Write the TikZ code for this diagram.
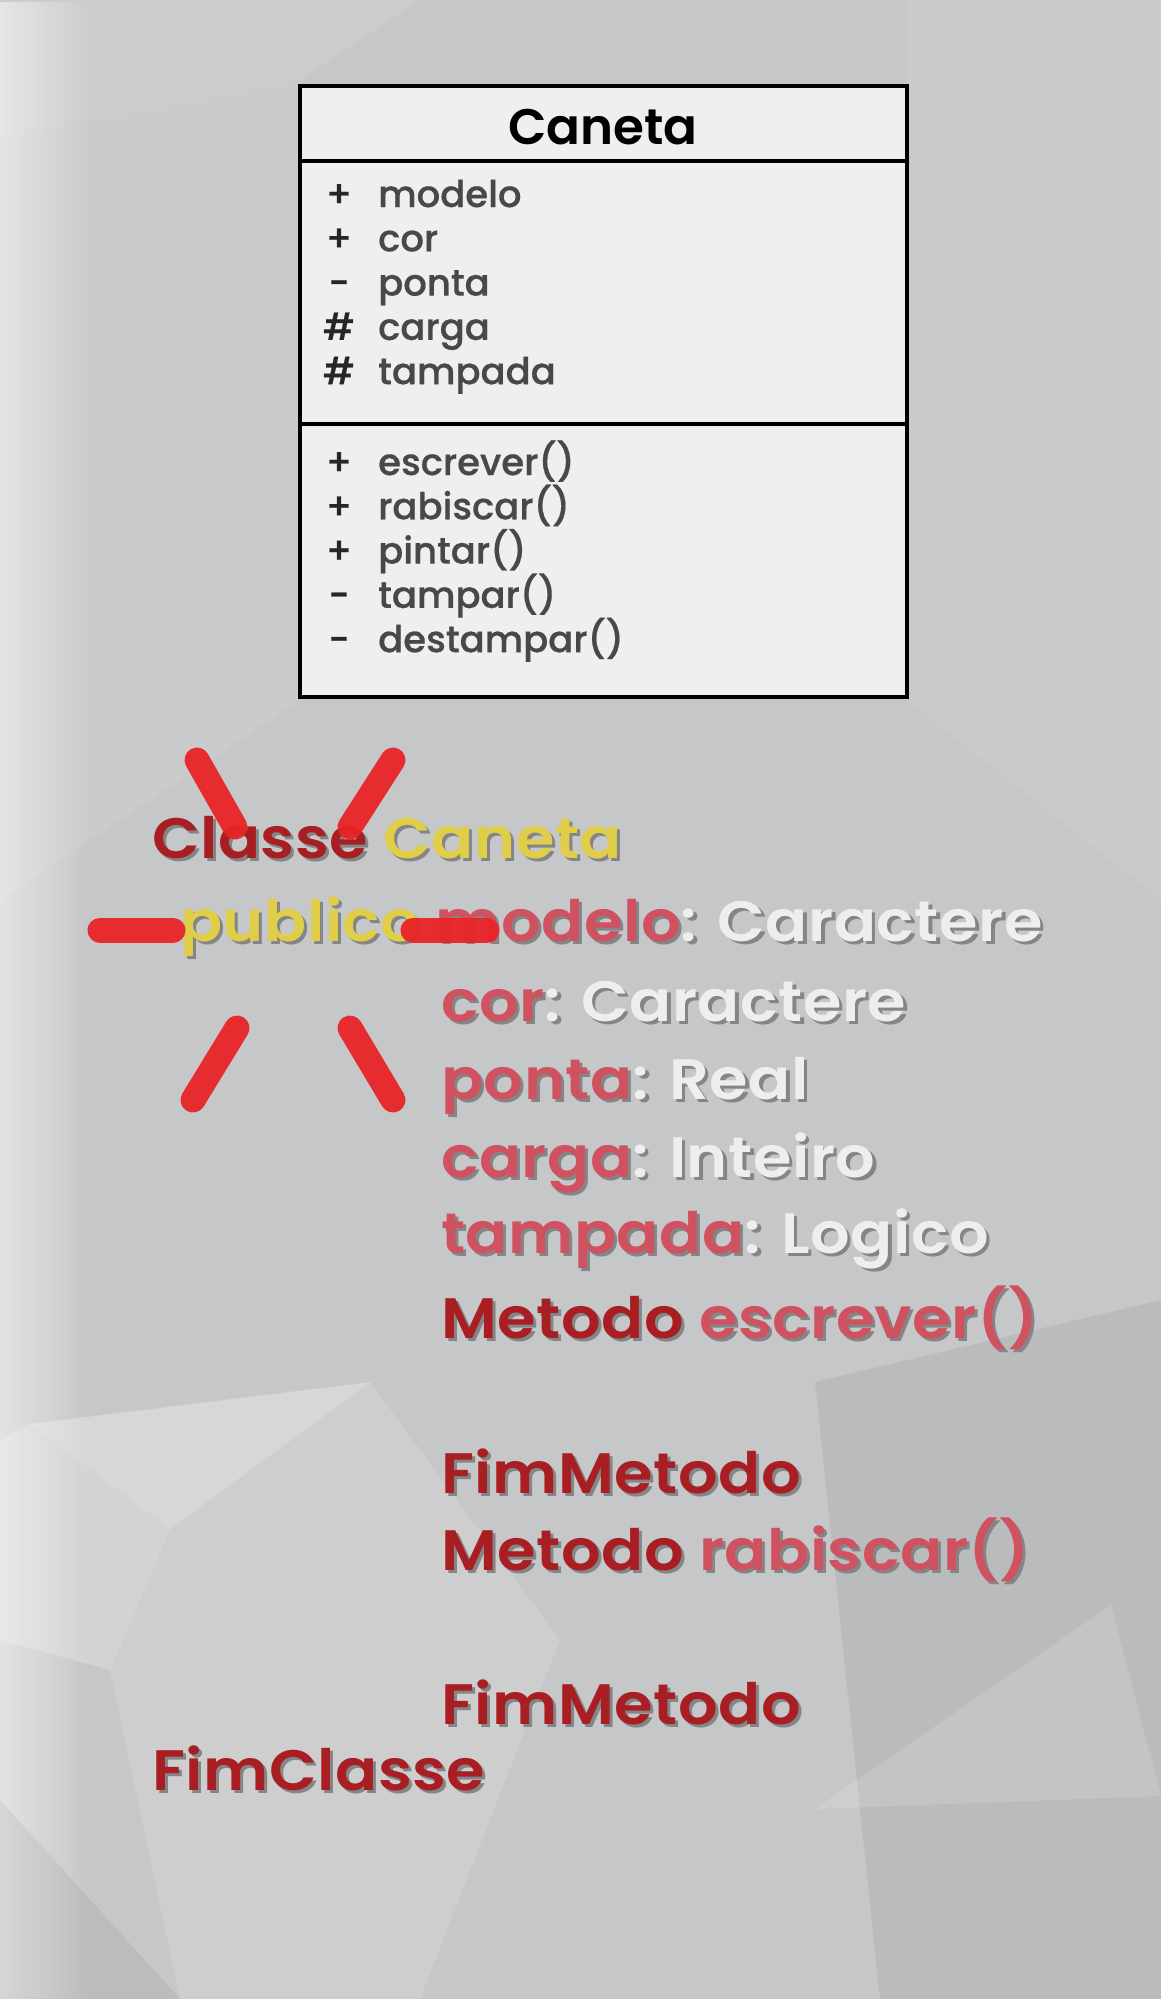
\documentclass[tikz,border=0pt]{standalone}
\usepackage{fontspec}
\setmainfont{Poppins}
\IfFontExistsTF{Poppins Medium}
  {\newfontfamily\pmed{Poppins Medium}[FakeBold=0.5]}
  {\newfontfamily\pmed{Poppins}[FakeBold=1.6]}
\IfFontExistsTF{Poppins SemiBold}
  {\newfontfamily\ptitle{Poppins SemiBold}
   \newfontfamily\psemi{Poppins SemiBold}[FakeStretch=1.09,LetterSpace=1]}
  {\newfontfamily\ptitle{Poppins}[FakeBold=2.5]
   \newfontfamily\psemi{Poppins}[FakeBold=2.5,FakeStretch=1.09,LetterSpace=1]}
\usetikzlibrary{positioning,fadings}
\definecolor{bgbase}{RGB}{198,199,200}
\definecolor{boxfill}{RGB}{243,243,243}
\definecolor{umltext}{RGB}{72,72,72}
\definecolor{kwred}{RGB}{168,30,34}
\definecolor{idyel}{RGB}{224,206,72}
\definecolor{nmpink}{RGB}{208,82,96}
\definecolor{tywhite}{RGB}{238,238,238}
\definecolor{shadowgray}{RGB}{132,133,134}
\definecolor{markred}{RGB}{232,36,38}
% colour switches used inside the code lines
\newcommand{\kwc}{\color{kwred}}
\newcommand{\idc}{\color{idyel}}
\newcommand{\nmc}{\color{nmpink}}
\newcommand{\tyc}{\color{tywhite}}
% text with a grey drop shadow behind it
\newcommand{\shadowed}[1]{\rlap{\hspace{3pt}\raisebox{-3pt}{\color{shadowgray}%
  \def\kwc{}\def\idc{}\def\nmc{}\def\tyc{}#1}}#1}
\newcommand{\codefont}{\psemi\fontsize{57}{60}\selectfont}
\tikzset{
  facet/.style={fill=white, draw=none},
  darkfacet/.style={fill=black, draw=none},
  umlbox/.style={draw=black, line width=4pt, fill=boxfill, fill opacity=0.93},
  umlline/.style={draw=black, line width=4pt},
  vis/.style={anchor=base, inner sep=0pt, text=black!85, font=\pmed\fontsize{37}{40}\selectfont},
  member/.style={anchor=base west, inner sep=0pt, text=umltext, font=\pmed\fontsize{37}{40}\selectfont},
  code/.style={anchor=base west, inner sep=0pt, font=\codefont},
  strike/.style={draw=markred, line width=25pt, line cap=round, opacity=0.95}
}
\begin{document}
\begin{tikzpicture}[x=1pt,y=-1pt]
\useasboundingbox (0,0) rectangle (1161,1999);
% background
\fill[bgbase] (0,0) rectangle (1161,1999);
\fill[facet, opacity=0.10] (0,0) -- (420,0) -- (300,80) -- (0,140) -- cycle;
\fill[facet, opacity=0.08] (0,140) -- (300,80) -- (300,700) -- (0,900) -- cycle;
\fill[facet, opacity=0.5, path fading=east] (0,0) rectangle (90,1999);
\fill[facet, opacity=0.08] (907,0) -- (1161,0) -- (1161,260) -- (907,150) -- cycle;
\fill[facet, opacity=0.06] (907,150) -- (1161,260) -- (1161,900) -- (907,700) -- cycle;
\fill[facet, opacity=0.30] (30,1424) -- (370,1382) -- (170,1529) -- cycle;
\fill[facet, opacity=0.22] (0,1440) -- (30,1424) -- (170,1529) -- (110,1670) -- (0,1640) -- cycle;
\fill[facet, opacity=0.14] (110,1670) -- (170,1529) -- (370,1382) -- (560,1640) -- (420,1999) -- (180,1999) -- cycle;
\fill[darkfacet, opacity=0.06] (815,1382) -- (1161,1300) -- (1161,1999) -- (880,1999) -- cycle;
\fill[facet, opacity=0.14] (1111,1605) -- (815,1809) -- (1161,1796) -- cycle;
\fill[darkfacet, opacity=0.05] (0,1800) -- (180,1999) -- (0,1999) -- cycle;
% UML class box
\path[umlbox] (300,86) rectangle (907,697);
\coordinate (hdl) at (300,161);  \coordinate (hdr) at (907,161);
\coordinate (dvl) at (300,424);  \coordinate (dvr) at (907,424);
\draw[umlline] (hdl) -- (hdr);
\draw[umlline] (dvl) -- (dvr);
\node[anchor=base, inner sep=0pt, font=\ptitle\fontsize{50}{54}\selectfont] (title) at (603,145) {Caneta};
\foreach \sym/\txt [count=\i] in {+/modelo,+/cor,-/ponta,\#/carga,\#/tampada} {
  \node[vis] (avis\i) at (339,207+44.3*\i-44.3) {\sym};
  \node[member] (attr\i) at (378,207+44.3*\i-44.3) {\txt};
}
\foreach \sym/\txt [count=\i] in {+/escrever(),+/rabiscar(),+/pintar(),-/tampar(),-/destampar()} {
  \node[vis] (mvis\i) at (339,475+44.3*\i-44.3) {\sym};
  \node[member] (meth\i) at (378,475+44.3*\i-44.3) {\txt};
}
% pseudo-code lines
\foreach \id/\xx/\yy/\txt in {
  cls/152/858/{\kwc Classe \idc Caneta},
  la/180/941/{\idc publico \nmc modelo\tyc: Caractere},
  lb/441/1021/{\nmc cor\tyc: Caractere},
  lc/441/1099/{\nmc ponta\tyc: Real},
  ld/441/1177/{\nmc carga\tyc: Inteiro},
  le/441/1253/{\nmc tampada\tyc: Logico},
  mta/441/1338/{\kwc Metodo \nmc escrever()},
  fma/441/1493/{\kwc FimMetodo},
  mtb/441/1570/{\kwc Metodo \nmc rabiscar()},
  fmb/441/1724/{\kwc FimMetodo},
  fcl/152/1790/{\kwc FimClasse}} {
  \node[code] (\id) at (\xx,\yy) {\shadowed{\txt}};
}
% red strokes round "publico"
\coordinate (s1a) at (197,760);  \coordinate (s1b) at (235,827);
\coordinate (s2a) at (393,760);  \coordinate (s2b) at (350,827);
\coordinate (s3a) at (100,930);  \coordinate (s3b) at (173,930);
\coordinate (s4a) at (413,930);  \coordinate (s4b) at (487,930);
\coordinate (s5a) at (237,1028); \coordinate (s5b) at (193,1100);
\coordinate (s6a) at (350,1028); \coordinate (s6b) at (393,1100);
\foreach \k in {1,...,6} {
  \draw[strike] (s\k a) -- (s\k b);
}
\end{tikzpicture}
\end{document}
